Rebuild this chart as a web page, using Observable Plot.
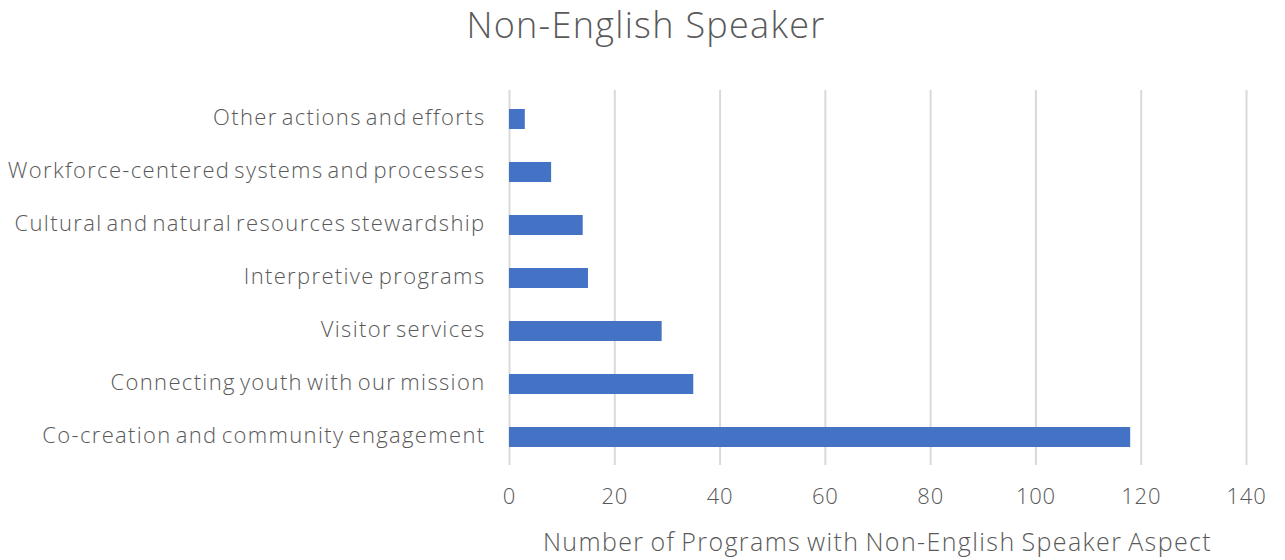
<!DOCTYPE html>
<html>
<head>
<meta charset="utf-8">
<script src="https://cdn.jsdelivr.net/npm/d3@7"></script>
<script src="https://cdn.jsdelivr.net/npm/@observablehq/plot@0.6"></script>
<style>
  html, body { margin: 0; padding: 0; background: #fff; }
  body { width: 1285px; height: 560px; position: relative; overflow: hidden; font-family: "Open Sans", Lato, sans-serif; color: #595959; }
  #title { position: absolute; left: 0; width: 1292px; top: 0px; text-align: center; font-size: 36px; font-weight: 300; letter-spacing: 1.3px; color: #595959; }
  #chart { position: absolute; left: 0; top: 60px; }
  #xlabel { position: absolute; left: 509px; width: 737px; top: 524px; text-align: center; font-size: 25px; font-weight: 300; letter-spacing: 1.4px; word-spacing: -2px; color: #595959; white-space: nowrap; }
  #chart g[aria-label="y-axis tick label"] text { letter-spacing: 1.35px; word-spacing: -3px; }
  #chart g[aria-label="x-axis tick label"] text { letter-spacing: 0.8px; }
</style>
</head>
<body>
<div id="title">Non-English Speaker</div>
<div id="chart"></div>
<div id="xlabel">Number of Programs with Non-English Speaker Aspect</div>
<script>
const categories = [
  "Other actions and efforts",
  "Workforce-centered systems and processes",
  "Cultural and natural resources stewardship",
  "Interpretive programs",
  "Visitor services",
  "Connecting youth with our mission",
  "Co-creation and community engagement"
];
const values = [3, 8, 14, 15, 29, 35, 118];
const xTicks = [0, 20, 40, 60, 80, 100, 120, 140];

const data = categories.map((c, i) => ({category: c, value: values[i]}));

const chart = Plot.plot({
  width: 1285,
  height: 460,
  marginTop: 30,
  marginBottom: 55,
  marginLeft: 509,
  marginRight: 39,
  style: {fontFamily: "'Open Sans', Lato, sans-serif", color: "#595959", background: "transparent"},
  x: {domain: [0, 140], ticks: xTicks},
  y: {domain: categories, paddingInner: 0.63, paddingOuter: 0.315},
  marks: [
    Plot.gridX(xTicks, {stroke: "#d9d9d9", strokeOpacity: 1, strokeWidth: 2}),
    Plot.barX(data, {x: "value", y: "category", fill: "#4472c4"}),
    Plot.axisX(xTicks, {tickSize: 0, tickPadding: 23, fontSize: 22, fill: "#595959", label: null, fontWeight: 300}),
    Plot.axisY({tickSize: 0, tickPadding: 24, fontSize: 22, dy: -2, fill: "#595959", label: null, fontWeight: 300})
  ]
});
document.getElementById("chart").appendChild(chart);
</script>
</body>
</html>
